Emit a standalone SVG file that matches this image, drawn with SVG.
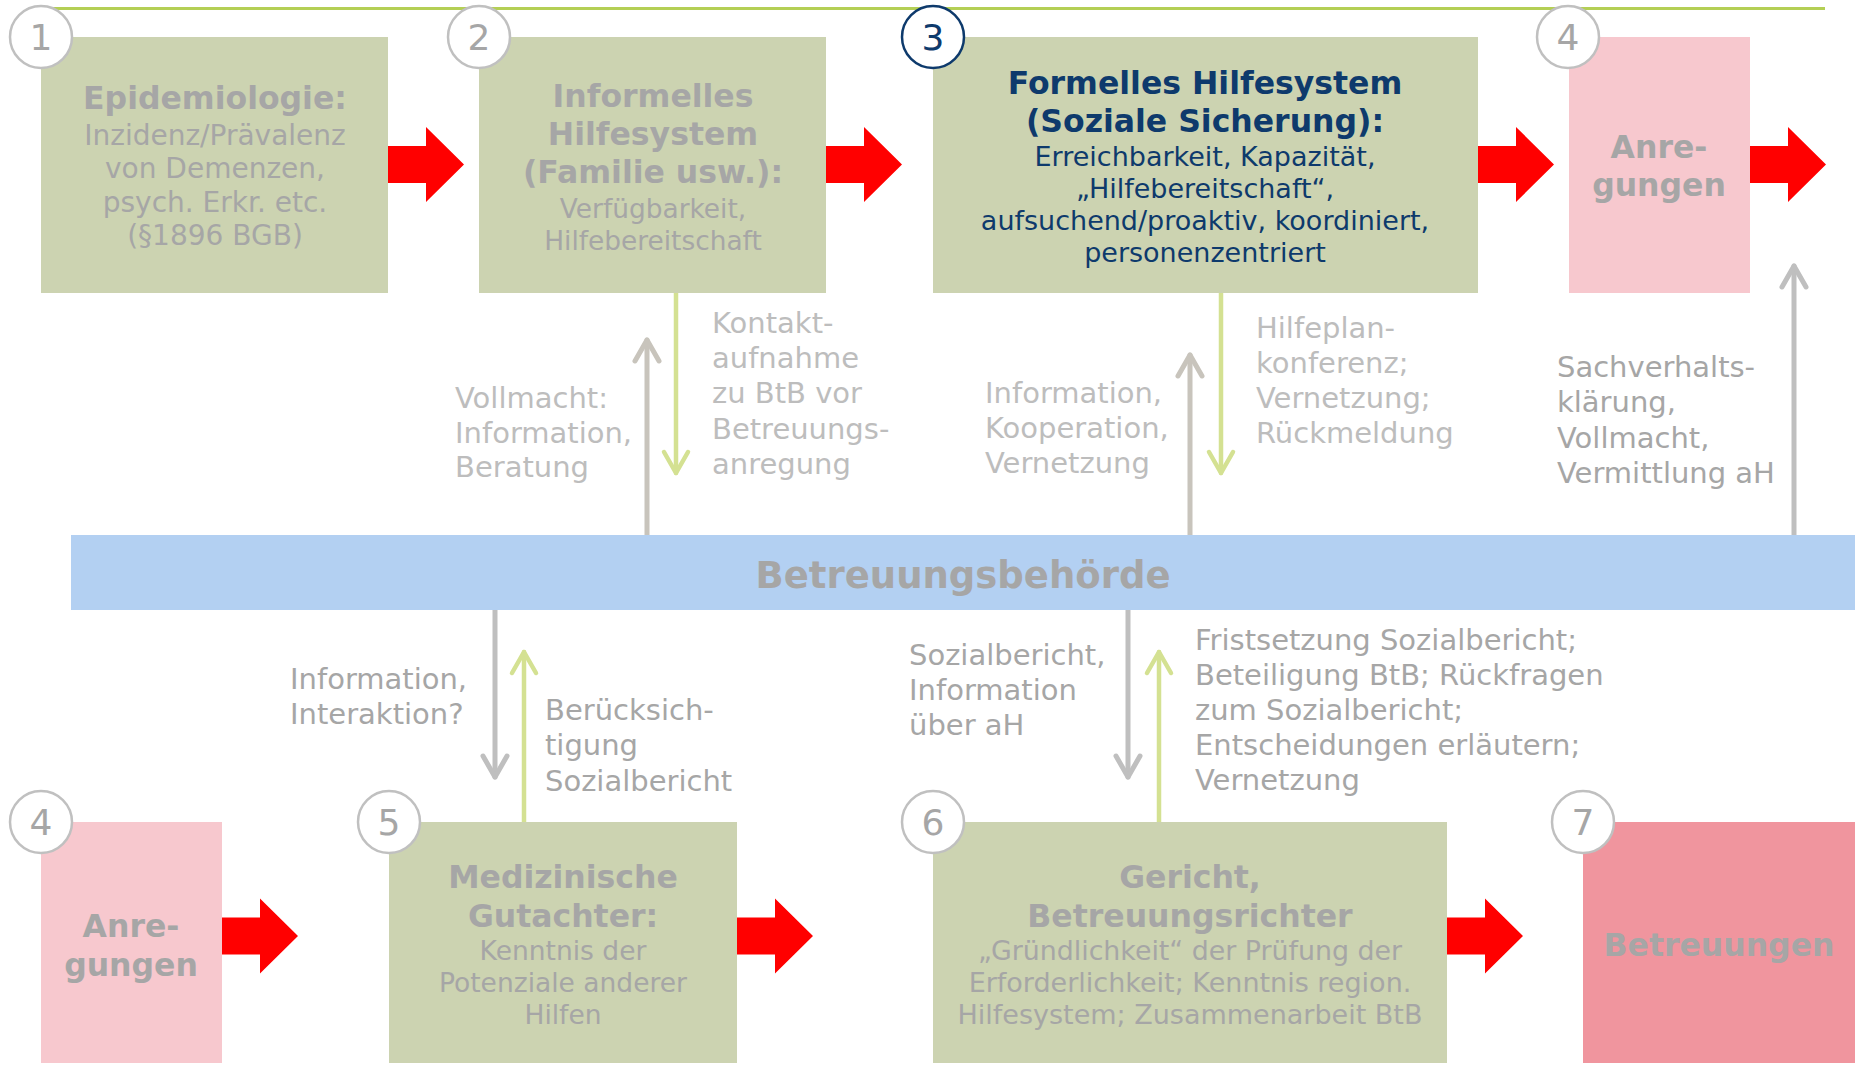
<svg xmlns="http://www.w3.org/2000/svg" width="1855" height="1066" viewBox="0 0 1855 1066">
  <style>
    text { font-family: "DejaVu Sans", Verdana, sans-serif; }
    .box { fill: #ccd3b1; }
    .pink { fill: #f7c8ce; }
    .rose { fill: #f0959e; }
    .band { fill: #b3d0f2; }
    .ring { fill: #ffffff; stroke: #c0c0c0; stroke-width: 2.5; }
    .ring-navy { fill: #ffffff; stroke: #0e3a6c; stroke-width: 2.5; }
    .num { font-size: 36px; fill: #a6a6a6; text-anchor: middle; }
    .hd { font-size: 31.5px; font-weight: bold; fill: #a6a6a6; text-anchor: middle; }
    .hd-band { font-size: 37px; font-weight: bold; fill: #a6a6a6; text-anchor: middle; }
    .tx { fill: #a6a6a6; text-anchor: middle; }
    .navy { fill: #0e3a6c; }
    .lbl { font-size: 29px; fill: #a6a6a6; }
    .lbl-lt { fill: #bdbdbd; }
    .red { fill: #ff0000; }
    .flow { fill: none; stroke-linecap: round; }
    .f-green { stroke: #d4e192; stroke-width: 4.5; }
    .f-warm { stroke: #c8c4bc; stroke-width: 5; }
    .f-gray { stroke: #bfbfbf; stroke-width: 5; }
    .topline { stroke: #b4cf55; stroke-width: 3; }
  </style>
  <defs>
    <path id="bigArrow" d="M0,-18.5 H38 V-37.5 L76,0 L38,37.5 V18.5 H0 Z"/>
    <marker id="head-green" markerUnits="userSpaceOnUse" orient="auto" overflow="visible" refX="0" refY="0" markerWidth="1" markerHeight="1">
      <path d="M-21,-12 L0,0 L-21,12" fill="none" stroke="#d4e192" stroke-width="4.5" stroke-linecap="round" stroke-linejoin="round"/>
    </marker>
    <marker id="head-warm" markerUnits="userSpaceOnUse" orient="auto" overflow="visible" refX="0" refY="0" markerWidth="1" markerHeight="1">
      <path d="M-21,-12 L0,0 L-21,12" fill="none" stroke="#c8c4bc" stroke-width="5" stroke-linecap="round" stroke-linejoin="round"/>
    </marker>
    <marker id="head-gray" markerUnits="userSpaceOnUse" orient="auto" overflow="visible" refX="0" refY="0" markerWidth="1" markerHeight="1">
      <path d="M-21,-12 L0,0 L-21,12" fill="none" stroke="#bfbfbf" stroke-width="5" stroke-linecap="round" stroke-linejoin="round"/>
    </marker>
  </defs>

  <rect width="1855" height="1066" fill="#ffffff"/>
  <line class="topline" x1="53" y1="8.5" x2="1825" y2="8.5"/>

  <!-- connectors: red flow arrows, vertical exchange arrows and their labels -->
  <g id="connectors">
    <use href="#bigArrow" class="red" transform="translate(388,164.5)"/>
    <use href="#bigArrow" class="red" transform="translate(826,164.5)"/>
    <use href="#bigArrow" class="red" transform="translate(1478,164.5)"/>
    <use href="#bigArrow" class="red" transform="translate(1750,164.5)"/>
    <use href="#bigArrow" class="red" transform="translate(222,936)"/>
    <use href="#bigArrow" class="red" transform="translate(737,936)"/>
    <use href="#bigArrow" class="red" transform="translate(1447,936)"/>

    <g id="link-informell">
      <line class="flow f-green" x1="676" y1="293" x2="676" y2="473" marker-end="url(#head-green)"/>
      <line class="flow f-warm" x1="647" y1="535" x2="647" y2="340" marker-end="url(#head-warm)"/>
      <text class="lbl lbl-lt" x="455" y="408">Vollmacht:</text>
      <text class="lbl lbl-lt" x="455" y="443">Information,</text>
      <text class="lbl lbl-lt" x="455" y="477">Beratung</text>
      <text class="lbl lbl-lt" x="712" y="333">Kontakt-</text>
      <text class="lbl lbl-lt" x="712" y="368">aufnahme</text>
      <text class="lbl lbl-lt" x="712" y="403">zu BtB vor</text>
      <text class="lbl lbl-lt" x="712" y="439">Betreuungs-</text>
      <text class="lbl lbl-lt" x="712" y="474">anregung</text>
    </g>

    <g id="link-formell">
      <line class="flow f-green" x1="1221" y1="293" x2="1221" y2="473" marker-end="url(#head-green)"/>
      <line class="flow f-warm" x1="1190" y1="535" x2="1190" y2="355" marker-end="url(#head-warm)"/>
      <text class="lbl lbl-lt" x="985" y="403">Information,</text>
      <text class="lbl lbl-lt" x="985" y="438">Kooperation,</text>
      <text class="lbl lbl-lt" x="985" y="473">Vernetzung</text>
      <text class="lbl lbl-lt" x="1256" y="338">Hilfeplan-</text>
      <text class="lbl lbl-lt" x="1256" y="373">konferenz;</text>
      <text class="lbl lbl-lt" x="1256" y="408">Vernetzung;</text>
      <text class="lbl lbl-lt" x="1256" y="443">Rückmeldung</text>
    </g>

    <g id="link-anregung">
      <line class="flow f-gray" x1="1794" y1="535" x2="1794" y2="266" marker-end="url(#head-gray)"/>
      <text class="lbl" x="1557" y="377">Sachverhalts-</text>
      <text class="lbl" x="1557" y="412">klärung,</text>
      <text class="lbl" x="1557" y="448">Vollmacht,</text>
      <text class="lbl" x="1557" y="483">Vermittlung aH</text>
    </g>

    <g id="link-gutachter">
      <line class="flow f-gray" x1="495" y1="610" x2="495" y2="777" marker-end="url(#head-gray)"/>
      <line class="flow f-green" x1="524" y1="822" x2="524" y2="652" marker-end="url(#head-green)"/>
      <text class="lbl" x="290" y="689">Information,</text>
      <text class="lbl" x="290" y="724">Interaktion?</text>
      <text class="lbl" x="545" y="720">Berücksich-</text>
      <text class="lbl" x="545" y="755">tigung</text>
      <text class="lbl" x="545" y="791">Sozialbericht</text>
    </g>

    <g id="link-gericht">
      <line class="flow f-gray" x1="1128" y1="610" x2="1128" y2="777" marker-end="url(#head-gray)"/>
      <line class="flow f-green" x1="1159" y1="822" x2="1159" y2="652" marker-end="url(#head-green)"/>
      <text class="lbl" x="909" y="665">Sozialbericht,</text>
      <text class="lbl" x="909" y="700">Information</text>
      <text class="lbl" x="909" y="735">über aH</text>
      <text class="lbl" x="1195" y="650">Fristsetzung Sozialbericht;</text>
      <text class="lbl" x="1195" y="685">Beteiligung BtB; Rückfragen</text>
      <text class="lbl" x="1195" y="720">zum Sozialbericht;</text>
      <text class="lbl" x="1195" y="755">Entscheidungen erläutern;</text>
      <text class="lbl" x="1195" y="790">Vernetzung</text>
    </g>
  </g>

  <!-- nodes -->
  <g id="node-epidemiologie">
    <rect class="box" x="41" y="37" width="347" height="256"/>
    <circle class="ring" cx="41" cy="37" r="31"/>
    <text class="num" x="41" y="50">1</text>
    <text class="hd" x="215" y="109">Epidemiologie:</text>
    <text class="tx" font-size="28" x="215" y="145">Inzidenz/Prävalenz</text>
    <text class="tx" font-size="28" x="215" y="178">von Demenzen,</text>
    <text class="tx" font-size="28" x="215" y="212">psych. Erkr. etc.</text>
    <text class="tx" font-size="28" x="215" y="245">(§1896 BGB)</text>
  </g>

  <g id="node-informell">
    <rect class="box" x="479" y="37" width="347" height="256"/>
    <circle class="ring" cx="479" cy="37" r="31"/>
    <text class="num" x="479" y="50">2</text>
    <text class="hd" x="653" y="107">Informelles</text>
    <text class="hd" x="653" y="145">Hilfesystem</text>
    <text class="hd" x="653" y="183">(Familie usw.):</text>
    <text class="tx" font-size="26.4" x="653" y="218">Verfügbarkeit,</text>
    <text class="tx" font-size="26.4" x="653" y="250">Hilfebereitschaft</text>
  </g>

  <g id="node-formell">
    <rect class="box" x="933" y="37" width="545" height="256"/>
    <circle class="ring-navy" cx="933" cy="37" r="31"/>
    <text class="num navy" x="933" y="50">3</text>
    <text class="hd navy" x="1205" y="94">Formelles Hilfesystem</text>
    <text class="hd navy" x="1205" y="132">(Soziale Sicherung):</text>
    <text class="tx navy" font-size="27" x="1205" y="166">Erreichbarkeit, Kapazität,</text>
    <text class="tx navy" font-size="27" x="1205" y="198">„Hilfebereitschaft“,</text>
    <text class="tx navy" font-size="27" x="1205" y="230">aufsuchend/proaktiv, koordiniert,</text>
    <text class="tx navy" font-size="27" x="1205" y="262">personenzentriert</text>
  </g>

  <g id="node-anregungen-top">
    <rect class="pink" x="1569" y="37" width="181" height="256"/>
    <circle class="ring" cx="1568" cy="37" r="31"/>
    <text class="num" x="1568" y="50">4</text>
    <text class="hd" x="1659" y="158">Anre-</text>
    <text class="hd" x="1659" y="196">gungen</text>
  </g>

  <g id="node-betreuungsbehoerde">
    <rect class="band" x="71" y="535" width="1784" height="75"/>
    <text class="hd-band" x="963" y="588">Betreuungsbehörde</text>
  </g>

  <g id="node-anregungen-bottom">
    <rect class="pink" x="41" y="822" width="181" height="241"/>
    <circle class="ring" cx="41" cy="822" r="31"/>
    <text class="num" x="41" y="835">4</text>
    <text class="hd" x="131" y="937">Anre-</text>
    <text class="hd" x="131" y="976">gungen</text>
  </g>

  <g id="node-gutachter">
    <rect class="box" x="389" y="822" width="348" height="241"/>
    <circle class="ring" cx="389" cy="822" r="31"/>
    <text class="num" x="389" y="835">5</text>
    <text class="hd" x="563" y="888">Medizinische</text>
    <text class="hd" x="563" y="927">Gutachter:</text>
    <text class="tx" font-size="26.5" x="563" y="960">Kenntnis der</text>
    <text class="tx" font-size="26.5" x="563" y="992">Potenziale anderer</text>
    <text class="tx" font-size="26.5" x="563" y="1024">Hilfen</text>
  </g>

  <g id="node-gericht">
    <rect class="box" x="933" y="822" width="514" height="241"/>
    <circle class="ring" cx="933" cy="822" r="31"/>
    <text class="num" x="933" y="835">6</text>
    <text class="hd" x="1190" y="888">Gericht,</text>
    <text class="hd" x="1190" y="927">Betreuungsrichter</text>
    <text class="tx" font-size="26.8" x="1190" y="960">„Gründlichkeit“ der Prüfung der</text>
    <text class="tx" font-size="27" x="1190" y="992">Erforderlichkeit; Kenntnis region.</text>
    <text class="tx" font-size="27" x="1190" y="1024">Hilfesystem; Zusammenarbeit BtB</text>
  </g>

  <g id="node-betreuungen">
    <rect class="rose" x="1583" y="822" width="272" height="241"/>
    <circle class="ring" cx="1583" cy="822" r="31"/>
    <text class="num" x="1583" y="835">7</text>
    <text class="hd" x="1719" y="956">Betreuungen</text>
  </g>
</svg>
